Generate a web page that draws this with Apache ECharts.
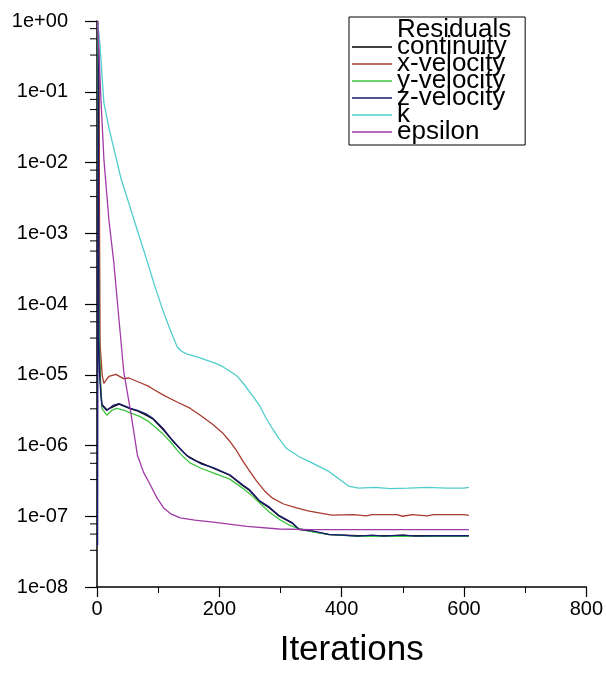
<!DOCTYPE html>
<html>
<head>
<meta charset="utf-8">
<script src="https://cdn.jsdelivr.net/npm/echarts@6/dist/echarts.min.js"></script>
<style>
html,body{margin:0;padding:0;background:#fff;}
#chart{width:606px;height:673px;}
</style>
</head>
<body>
<div id="chart"></div>
<script>
// ---- data (iteration, residual) ----
var seriesNames = ['continuity', 'x-velocity', 'y-velocity', 'z-velocity', 'k', 'epsilon'];
var continuity = [[1,1.0],[2,0.62],[3,0.31],[4,2.2e-5],[6,6.7e-6],[8,3.8e-6],[16,3.2e-6],[36,3.85e-6],[55,3.3e-6],[66,3.08e-6],[82,2.63e-6],[92,2.35e-6],[108,1.68e-6],[125,1.13e-6],[147,7.2e-7],[165,5.9e-7],[190,4.8e-7],[217,3.8e-7],[238,2.73e-7],[249,2.33e-7],[266,1.62e-7],[282,1.31e-7],[298,1.0e-7],[319,8.0e-8],[330,6.55e-8],[352,6.1e-8],[379,5.5e-8],[427,5.3e-8],[608,5.3e-8]];
var xVelocity = [[1,1.0],[3,0.21],[5,2.75e-5],[8.6,9.65e-6],[11.3,7.55e-6],[15,8.45e-6],[19.4,9.45e-6],[30.8,1.01e-5],[43.7,8.8e-6],[52,9.0e-6],[68,7.9e-6],[84,6.9e-6],[92,6.25e-6],[108.5,5.15e-6],[130,4.15e-6],[152,3.37e-6],[170,2.64e-6],[190,1.96e-6],[205,1.52e-6],[217,1.15e-6],[228,8.5e-7],[238,6.1e-7],[249,4.43e-7],[261,3.13e-7],[274,2.28e-7],[287,1.8e-7],[305,1.49e-7],[325,1.32e-7],[345,1.19e-7],[363,1.12e-7],[384,1.04e-7],[420,1.055e-7],[440,1.01e-7],[450,1.055e-7],[490,1.055e-7],[500,1.0e-7],[515,1.055e-7],[540,1.01e-7],[550,1.055e-7],[600,1.055e-7],[603,1.01e-7],[608,1.03e-7]];
var yVelocity = [[1,0.9],[3,1.08e-4],[5,8.9e-6],[8,3.35e-6],[16,2.68e-6],[24,3.13e-6],[32,3.35e-6],[45,3.13e-6],[55,2.87e-6],[70,2.58e-6],[84,2.19e-6],[96,1.8e-6],[108,1.45e-6],[120,1.13e-6],[131,8.6e-7],[142,6.8e-7],[152,5.68e-7],[170,4.77e-7],[190,4.09e-7],[217,3.35e-7],[238,2.5e-7],[252,1.99e-7],[266,1.54e-7],[282,1.14e-7],[298,9.05e-8],[312,7.7e-8],[325,6.9e-8],[352,6.0e-8],[379,5.53e-8],[427,5.2e-8],[608,5.2e-8]];
var zVelocity = [[1,3.9e-8],[2,0.82],[3,3.3e-5],[4,1.1e-5],[6,5.6e-6],[8,3.7e-6],[16,3.13e-6],[26,3.68e-6],[36,3.9e-6],[55,3.35e-6],[66,3.13e-6],[80,2.8e-6],[92,2.4e-6],[108,1.74e-6],[120,1.29e-6],[131,1.0e-6],[142,7.9e-7],[152,6.65e-7],[170,5.52e-7],[190,4.87e-7],[217,3.86e-7],[238,2.78e-7],[249,2.39e-7],[266,1.65e-7],[282,1.345e-7],[298,1.02e-7],[319,8.15e-8],[330,6.55e-8],[352,6.2e-8],[379,5.53e-8],[400,5.4e-8],[427,5.25e-8],[450,5.4e-8],[470,5.25e-8],[500,5.47e-8],[520,5.25e-8],[560,5.3e-8],[608,5.3e-8]];
var kResidual = [[1,1.0],[4.9,0.465],[8.1,0.174],[11.3,0.0695],[19.4,0.0312],[25.9,0.018],[38.9,0.0061],[55.1,0.00218],[68,9.7e-4],[82.6,3.88e-4],[95,1.73e-4],[108.5,7.75e-5],[120,4.27e-5],[131.2,2.47e-5],[138,2.15e-5],[147.4,1.96e-5],[165,1.77e-5],[179.8,1.6e-5],[195,1.44e-5],[205.7,1.3e-5],[218,1.11e-5],[228.3,9.7e-6],[240,7.4e-6],[252,5.37e-6],[265.6,3.7e-6],[276,2.47e-6],[286.6,1.74e-6],[298,1.24e-6],[309.3,9.15e-7],[330,7.0e-7],[351.4,5.67e-7],[378.9,4.3e-7],[395.1,3.4e-7],[411.3,2.67e-7],[427.5,2.5e-7],[455,2.56e-7],[480,2.45e-7],[508,2.5e-7],[540,2.56e-7],[570,2.5e-7],[600,2.5e-7],[608,2.56e-7]];
var epsilon = [[1,1.0],[6.5,0.077],[11.3,0.011],[19.4,1.56e-3],[27.5,3.85e-4],[35.6,6.5e-5],[43.7,1.11e-5],[55,3.02e-6],[66,7.35e-7],[76,4.2e-7],[87,2.79e-7],[98,1.82e-7],[109,1.31e-7],[120,1.09e-7],[136,9.5e-8],[160,8.8e-8],[190,8.25e-8],[245,7.2e-8],[298,6.6e-8],[350,6.45e-8],[608,6.45e-8]];
var seriesColors = ['#000000', '#a83a2e', '#3ec43e', '#1a1a70', '#50cccc', '#a03aa8'];
var xTicks = [0, 200, 400, 600, 800];
var yMinorTickFactors = [0.78, 0.56, 0.33];
var legendTitle = 'Residuals';
var xAxisTitle = 'Iterations';

var allData = [continuity, xVelocity, yVelocity, zVelocity, kResidual, epsilon];

// minor y ticks (values on the log axis)
var minorTickValues = [];
for (var d = 0; d >= -7; d--) {
  for (var i = 0; i < yMinorTickFactors.length; i++) {
    minorTickValues.push([0, Math.pow(10, d) * yMinorTickFactors[i]]);
  }
}

function expLabel(v) {
  var e = Math.round(Math.log10(v));
  var s = e < 0 ? '-' : '+';
  var a = Math.abs(e);
  return '1e' + s + (a < 10 ? '0' + a : '' + a);
}

var series = [{ name: legendTitle, type: 'line', data: [] }];
for (var s = 0; s < seriesNames.length; s++) {
  series.push({
    name: seriesNames[s],
    type: 'line',
    data: allData[s],
    showSymbol: false,
    symbol: 'none',
    lineStyle: { color: seriesColors[s], width: 1.3 },
    itemStyle: { color: seriesColors[s] },
    emphasis: { disabled: true },
    z: 2 + s
  });
}
series.push({
  name: '_minorTicks',
  type: 'custom',
  data: minorTickValues,
  clip: false,
  silent: true,
  z: 10,
  renderItem: function (params, api) {
    var p = api.coord([api.value(0), api.value(1)]);
    return {
      type: 'line',
      shape: { x1: p[0] - 7, y1: p[1], x2: p[0], y2: p[1] },
      style: { stroke: '#000', lineWidth: 1 }
    };
  }
});

var chart = echarts.init(document.getElementById('chart'), null, { renderer: 'canvas' });
chart.setOption({
  animation: false,
  backgroundColor: '#fff',
  grid: { left: 97, right: 13, top: 21, bottom: 84, containLabel: false },
  legend: {
    orient: 'vertical',
    left: 349,
    top: 17,
    padding: [0, 14, 0, 3],
    itemGap: -9,
    itemWidth: 40,
    itemHeight: 1.5,
    icon: 'rect',
    selectedMode: false,
    borderColor: '#000',
    borderWidth: 1,
    backgroundColor: '#fff',
    textStyle: { fontFamily: 'Liberation Sans, Arial, sans-serif', fontSize: 26, color: '#000' },
    data: [{ name: legendTitle, icon: 'rect', itemStyle: { color: 'rgba(0,0,0,0)' } }].concat(seriesNames)
  },
  xAxis: {
    type: 'value',
    min: xTicks[0],
    max: xTicks[xTicks.length - 1],
    interval: xTicks[1] - xTicks[0],
    name: xAxisTitle,
    nameLocation: 'middle',
    nameGap: 46,
    nameTextStyle: { fontFamily: 'Liberation Sans, Arial, sans-serif', fontSize: 35, color: '#000', padding: [0, 0, 0, 20] },
    axisLine: { show: true, onZero: false, lineStyle: { color: '#000', width: 1.5 } },
    axisTick: { show: true, length: 10, lineStyle: { color: '#000', width: 1.2 } },
    minorTick: { show: true, splitNumber: 2, length: 6, lineStyle: { color: '#000', width: 1 } },
    axisLabel: { margin: 12, fontFamily: 'Liberation Sans, Arial, sans-serif', fontSize: 20, color: '#000' },
    splitLine: { show: false },
    minorSplitLine: { show: false }
  },
  yAxis: {
    type: 'log',
    logBase: 10,
    min: 1e-8,
    max: 1,
    splitNumber: 8,
    axisLine: { show: true, onZero: false, lineStyle: { color: '#000', width: 1.5 } },
    axisTick: { show: true, length: 12, lineStyle: { color: '#000', width: 1.2 } },
    axisLabel: {
      margin: 29,
      fontFamily: 'Liberation Sans, Arial, sans-serif',
      fontSize: 20,
      color: '#000',
      formatter: expLabel
    },
    splitLine: { show: false }
  },
  series: series
});
</script>
</body>
</html>
